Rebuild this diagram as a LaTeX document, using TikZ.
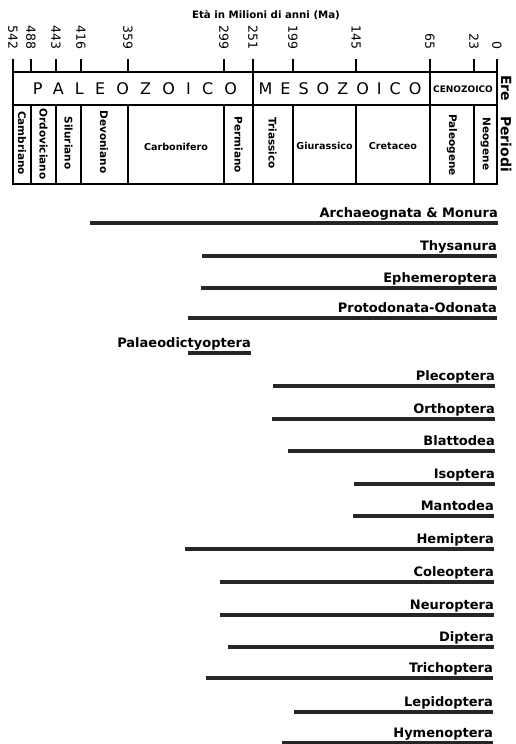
\documentclass[tikz,border=0pt]{standalone}
\usepackage{fontspec}
\setmainfont{DejaVu Sans}
\newfontfamily\paleofont[LetterSpace=70]{DejaVu Sans}
\newfontfamily\mesofont[LetterSpace=50]{DejaVu Sans}
\usetikzlibrary{positioning}

\tikzset{
  frame/.style={line width=1.4pt},
  ticklabel/.style={rotate=-90, anchor=east, inner sep=0pt, font=\fontsize{12.5}{12.5}\selectfont},
  period/.style={inner sep=0pt, font=\bfseries\fontsize{10.5}{11}\selectfont},
  flatperiod/.style={inner sep=0pt, font=\bfseries\fontsize{9.6}{10}\selectfont},
  side/.style={rotate=-90, inner sep=0pt, font=\bfseries\fontsize{14}{14}\selectfont},
  taxon/.style={anchor=base east, inner sep=0pt, font=\bfseries\fontsize{13}{14}\selectfont},
  spanbar/.style={line width=3.2pt, black!85},
}

\begin{document}
\begin{tikzpicture}[x=1pt,y=-1pt]
  \useasboundingbox (0,0) rectangle (515,744);

  % Title
  \node[font=\bfseries\fontsize{10.2}{11}\selectfont] (title) at (266,15) {Età in Milioni di anni (Ma)};

  % Time scale ticks
  \foreach \ma/\x in {542/13,488/31,443/56,416/81,359/128,299/224,251/253,199/293,145/356,65/430,23/474,0/497} {
    \draw[frame] (\x,59) -- (\x,72);
    \node[ticklabel] (t\ma) at (\x,50) {\ma};
  }

  % Frame of eras and periods
  \draw[frame] (13,72) rectangle (497,184);
  \draw[frame] (13,105) -- (497,105);
  \draw[frame] (253,72) -- (253,105);
  \draw[frame] (430,72) -- (430,105);
  \foreach \x in {31,56,81,128,224,253,293,356,430,474}
    \draw[frame] (\x,105) -- (\x,184);

  % Eras
  \node[inner sep=0pt, font=\paleofont\fontsize{16}{16}\selectfont] (paleo) at (135,89) {PALEOZOICO};
  \node[inner sep=0pt, font=\mesofont\fontsize{16}{16}\selectfont] (meso) at (340,89) {MESOZOICO};
  \node[inner sep=0pt, font=\bfseries\fontsize{9}{9}\selectfont] (ceno) at (463,89) {CENOZOICO};
  \node[side] (ere) at (506,88) {Ere};
  \node[side] (periodi) at (506,144) {Periodi};

  % Periods
  \node[period, rotate=-90] (camb) at (22,143) {Cambriano};
  \node[period, rotate=-90] (ord) at (43.5,144) {Ordoviciano};
  \node[period, rotate=-90] (sil) at (68.5,143) {Siluriano};
  \node[period, rotate=-90] (dev) at (104,142) {Devoniano};
  \node[flatperiod] (carb) at (176,147) {Carbonifero};
  \node[period, rotate=-90] (perm) at (238.5,145) {Permiano};
  \node[period, rotate=-90] (trias) at (272.5,143) {Triassico};
  \node[flatperiod] (giur) at (324.5,146) {Giurassico};
  \node[flatperiod] (cret) at (393,146) {Cretaceo};
  \node[period, rotate=-90] (paleog) at (452,145) {Paleogene};
  \node[period, rotate=-90] (neog) at (485.5,144) {Neogene};

  % Ranges of the insect orders
  \foreach \a/\y/\b/\name [count=\i] in {
      90/223/498/Archaeognata \& Monura,
      202/256/497/Thysanura,
      201/288/497/Ephemeroptera,
      188/318/497/Protodonata-Odonata,
      188/353/251/Palaeodictyoptera,
      273/386/495/Plecoptera,
      272/419/495/Orthoptera,
      288/451/495/Blattodea,
      354/484/495/Isoptera,
      353/516/494/Mantodea,
      185/549/494/Hemiptera,
      220/582/494/Coleoptera,
      220/615/494/Neuroptera,
      228/647/494/Diptera,
      206/678/493/Trichoptera,
      294/712/493/Lepidoptera,
      282/743/493/Hymenoptera} {
    \coordinate (s\i) at (\a,\y);
    \coordinate (e\i) at (\b,\y);
    \draw[spanbar] (s\i) -- (e\i);
    \node[taxon] (n\i) at ([yshift=6pt]e\i) {\name};
  }
\end{tikzpicture}
\end{document}
